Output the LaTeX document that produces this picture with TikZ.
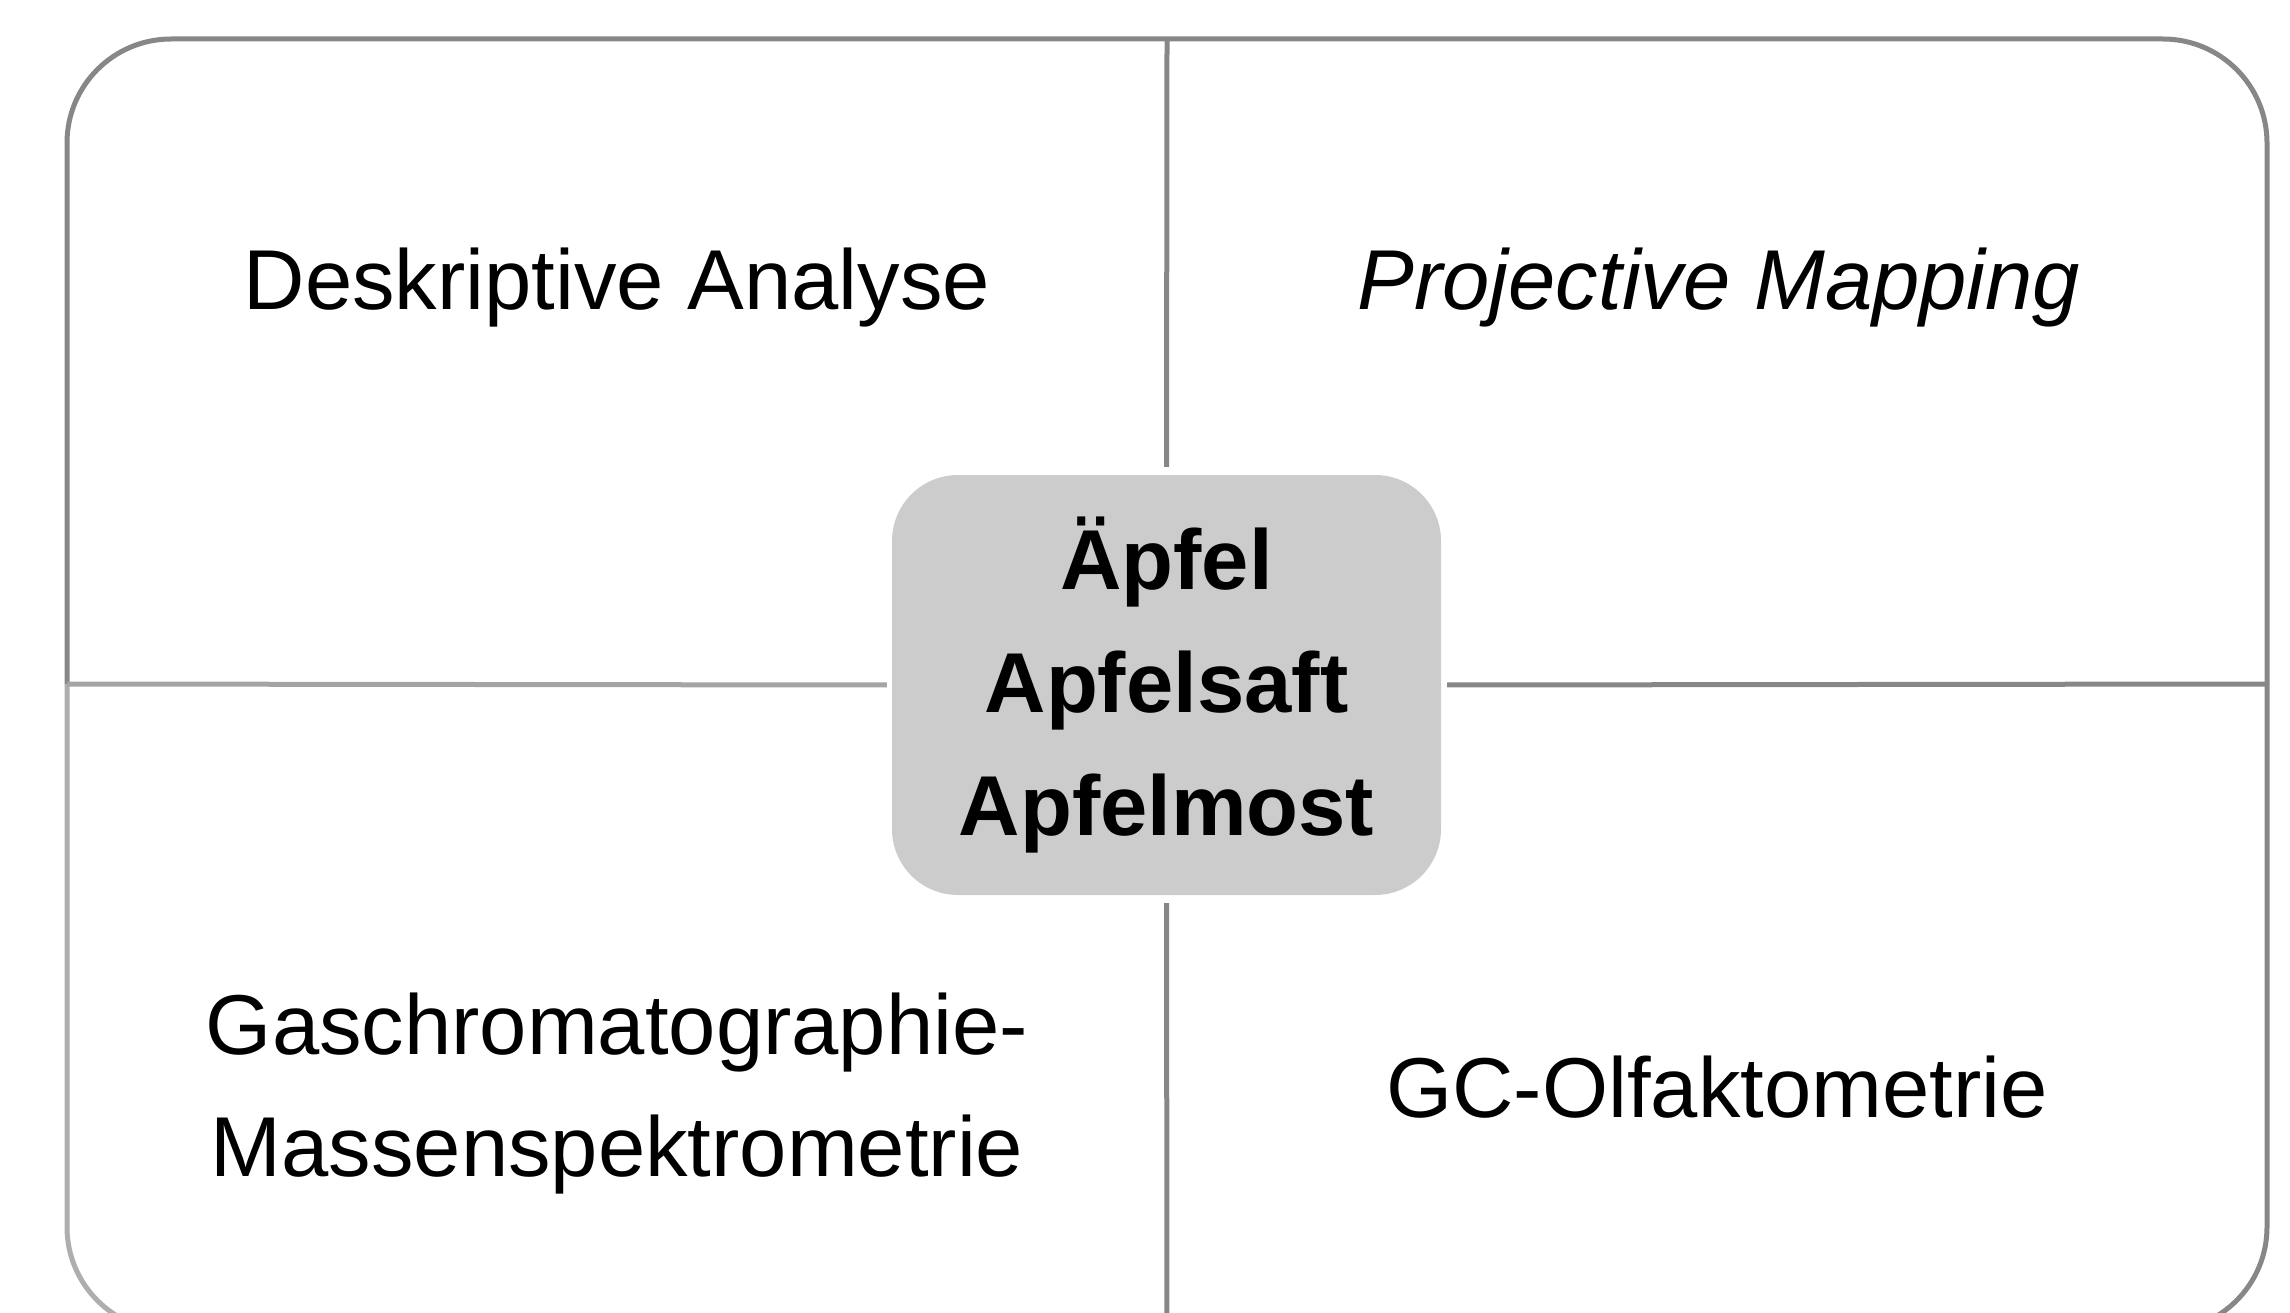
\documentclass[tikz,border=0pt]{standalone}
\usepackage{fontspec}
\setmainfont{Liberation Sans}
\definecolor{qgray}{HTML}{878787}
\definecolor{qlight}{HTML}{AEAEAE}
\definecolor{qmid}{HTML}{A4A4A4}
\definecolor{boxgray}{HTML}{CCCCCC}
\begin{document}
\begin{tikzpicture}[x=1pt,y=-1pt,
  quadline/.style={line width=5pt, draw=qgray},
  quadlight/.style={line width=5pt, draw=qlight},
  quadtext/.style={font=\fontsize{85}{122}\selectfont, inner sep=0pt, align=center, text=black},
  centerbox/.style={fill=boxgray, rounded corners=66pt, minimum width=549pt, minimum height=420pt,
    inner sep=0pt, align=center, font=\bfseries\fontsize{85}{123}\selectfont}]
\useasboundingbox (0,0) rectangle (2290,1313);
\coordinate (tm) at (1167,39);
\coordinate (bm) at (1167,1331);
\coordinate (lm) at (67,684);
\coordinate (rm) at (2267,684);
% outer frame, one piece per quadrant
\draw[quadline, rounded corners=104pt] (lm) -- (67,39) -- (tm);
\draw[quadline, rounded corners=104pt] (tm) -- (2267,39) -- (rm);
\draw[quadline, rounded corners=104pt] (rm) -- (2267,1331) -- (bm);
\draw[quadlight, rounded corners=104pt] (bm) -- (67,1331) -- (lm);
% centre
\node[centerbox] (c) at (1166.5,685) {Äpfel\\Apfelsaft\\Apfelmost};
\draw[quadline, shorten >=8pt] (tm) -- (c.north);
\draw[quadline, shorten >=8pt] (bm) -- (c.south);
\draw[line width=5pt, draw=qmid, shorten >=5pt] (lm) -- (c.west);
\draw[quadline, shorten >=6pt] (rm) -- (c.east);
% quadrant texts
\node[quadtext, anchor=base] (da) at (617,310) {Deskriptive Analyse};
\node[quadtext, anchor=base, font=\itshape\fontsize{85}{122}\selectfont] (pm) at (1719,310) {Projective Mapping};
\node[quadtext] (gc) at (617,1094) {Gaschromatographie-\\Massenspektrometrie};
\node[quadtext, anchor=base] (gco) at (1717,1117) {GC-Olfaktometrie};
\end{tikzpicture}
\end{document}
